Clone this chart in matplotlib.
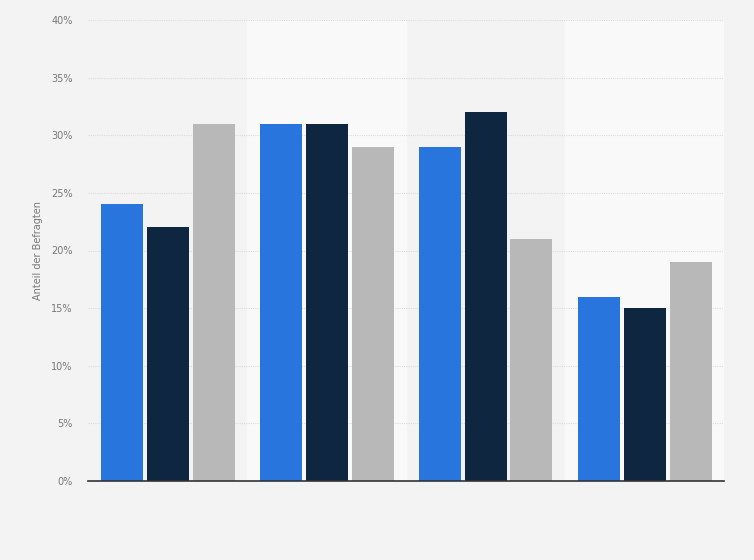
import matplotlib.pyplot as plt
import numpy as np

# values (percent)
groups = ["1", "2", "3", "4"]
series_a = [24, 31, 29, 16]
series_b = [22, 31, 32, 15]
series_c = [31, 29, 21, 19]
colors = ["#2876dd", "#0f2640", "#b8b8b8"]
yticks = [0, 5, 10, 15, 20, 25, 30, 35, 40]

fig = plt.figure(figsize=(7.54, 5.6), dpi=100, facecolor="#f3f3f3")
ax = fig.add_axes([88/754, 79/560, 636/754, 461/560])
ax.set_facecolor("#f3f3f3")

x = np.arange(len(groups))
w = 42/159
step = 46/159

# alternating column shading
for i in x:
    if i % 2 == 1:
        ax.axvspan(i - 0.5, i + 0.5, color="#f9f9f9", zorder=0)

for k, vals in enumerate([series_a, series_b, series_c]):
    ax.bar(x + (k - 1) * step, vals, width=w, color=colors[k], zorder=3)

ax.set_xlim(-0.5, len(groups) - 0.5)
ax.set_ylim(0, 40)
ax.set_yticks(yticks)
ax.set_yticklabels([f"{t}%" for t in yticks], color="#777777", fontsize=7)
ax.set_xticks([])
ax.yaxis.grid(True, color="#dcdcdc", linestyle=(0, (1, 1)), linewidth=0.8, zorder=1)
ax.tick_params(axis="y", length=0, pad=11)

for s in ["top", "right", "left"]:
    ax.spines[s].set_visible(False)
ax.spines["bottom"].set_color("#333333")
ax.spines["bottom"].set_linewidth(1.2)
ax.spines["bottom"].set_zorder(4)

ax.set_ylabel("Anteil der Befragten", color="#777777", fontsize=7, labelpad=6)

fig.savefig("out.png", dpi=100, facecolor=fig.get_facecolor())
